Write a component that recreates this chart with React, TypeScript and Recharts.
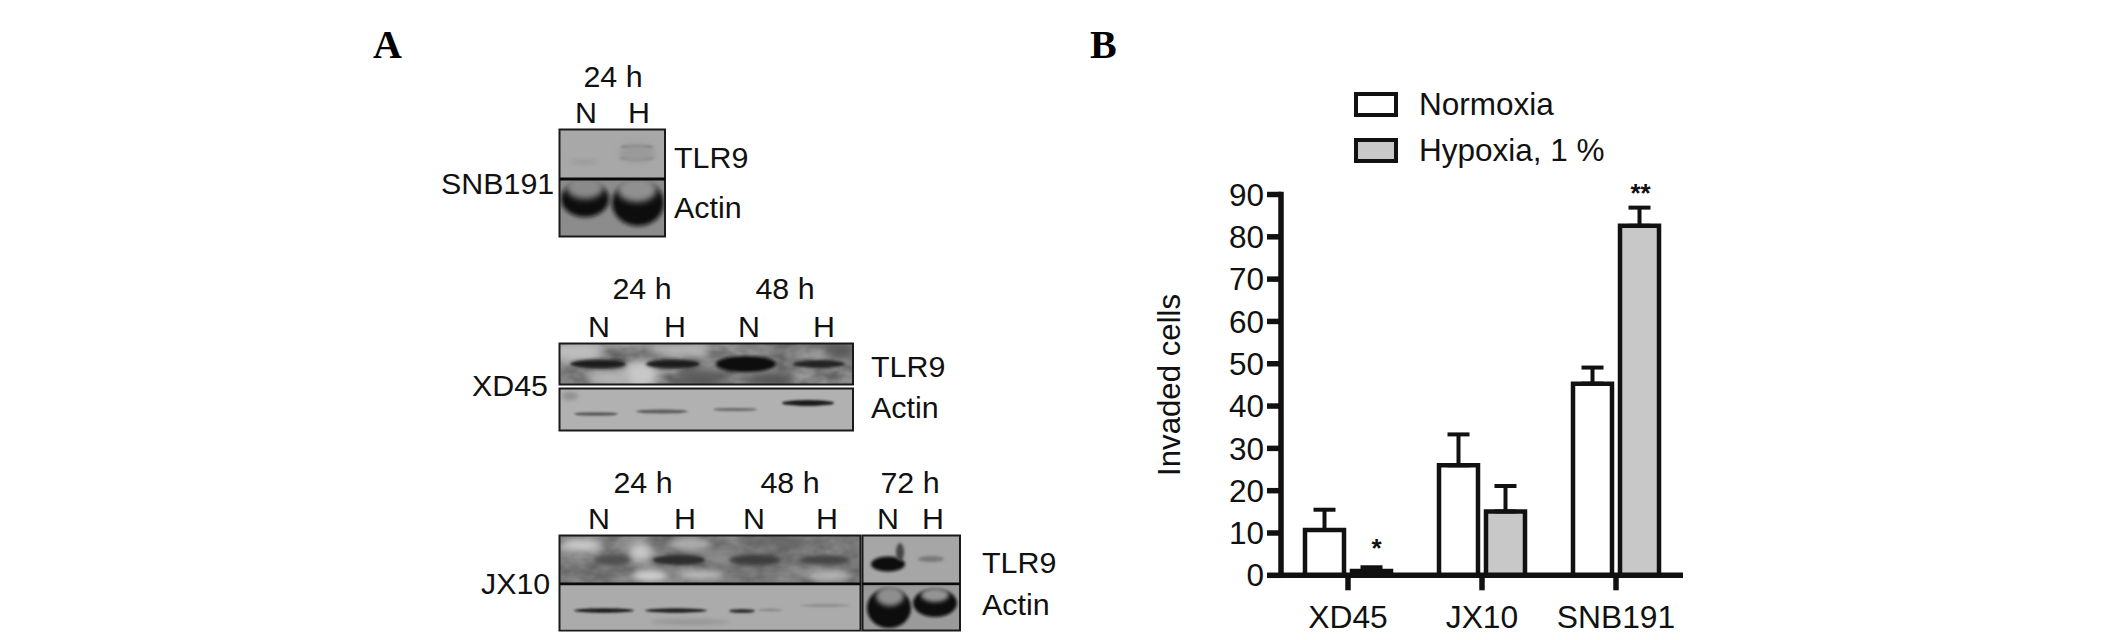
import React from 'react';
import { BarChart, Bar, XAxis, YAxis, ErrorBar, Legend, Label, LabelList } from 'recharts';

// chart values
const categories = ['XD45', 'JX10', 'SNB191'];
const normoxia = [10.7, 26, 45.3];
const normoxiaErr = [4.8, 7.3, 3.8];
const hypoxia = [1, 15.1, 82.6];
const hypoxiaErr = [0.9, 6, 4.3];
const hypoxiaStars = ['*', '', '**'];
const yTicks = [0, 10, 20, 30, 40, 50, 60, 70, 80, 90];

const chartData = categories.map((name, i) => ({
  name,
  normoxia: normoxia[i],
  normoxiaErr: [0, normoxiaErr[i]],
  hypoxia: hypoxia[i],
  hypoxiaErr: [0, hypoxiaErr[i]],
  star: hypoxiaStars[i],
}));

const FONT = '"Liberation Sans", Arial, sans-serif';
const SERIF = '"Liberation Serif", "Times New Roman", serif';
const INK = '#111';
const GREY = '#c8c8c8';

const PLOT_TOP = 194.5;
const PLOT_BOTTOM = 575.3;
const PX_PER_UNIT = (PLOT_BOTTOM - PLOT_TOP) / 90;

// blot layout for panel A: [cx, cy, rx, ry, colour, blur]
type Spot = [number, number, number, number, string, number];
interface Blot {
  x: number;
  y: number;
  w: number;
  h: number;
  fill: string;
  mottled?: boolean;
  spots: Spot[];
}

const blots: Blot[] = [
  {
    x: 560, y: 130, w: 105, h: 49, fill: '#a8a8a8',
    spots: [
      [637, 147, 16, 2, '#6c6c6c', 1],
      [637, 158, 17, 2.5, '#7c7c7c', 1],
      [637, 153, 18, 10, '#9a9a9a', 3],
      [584, 162, 14, 3, '#9b9b9b', 2],
    ],
  },
  {
    x: 560, y: 180, w: 105, h: 56, fill: '#8c8c8c',
    spots: [
      [585, 199, 24, 18, '#0e0e0e', 2],
      [585, 187, 19, 12, '#8a8a8a', 3],
      [638, 203, 26, 23, '#0e0e0e', 2],
      [637, 189, 20, 13, '#909090', 3],
    ],
  },
  {
    x: 560, y: 344, w: 293, h: 41, fill: '#9a9a9a', mottled: true,
    spots: [
      [575, 352, 30, 10, '#c0c0c0', 5],
      [640, 375, 18, 14, '#c8c8c8', 5],
      [610, 378, 22, 8, '#b5b5b5', 4],
      [700, 380, 24, 10, '#5a5a5a', 5],
      [770, 380, 26, 8, '#555', 5],
      [680, 350, 30, 7, '#b5b5b5', 4],
      [840, 350, 16, 10, '#5a5a5a', 5],
      [598, 364, 28, 4.5, '#1a1a1a', 1.5],
      [673, 364, 27, 4.5, '#1a1a1a', 1.5],
      [746, 364, 30, 8, '#111', 1.5],
      [819, 364, 26, 4, '#222', 1.5],
    ],
  },
  {
    x: 560, y: 389, w: 293, h: 41, fill: '#b1b1b1',
    spots: [
      [596, 414, 22, 1.6, '#4b4b4b', 1],
      [662, 411.5, 26, 2, '#5a5a5a', 1],
      [735, 409.5, 22, 1.6, '#6a6a6a', 1],
      [808, 403, 26, 3, '#1e1e1e', 1],
      [570, 396, 8, 4, '#8f8f8f', 2],
    ],
  },
  {
    x: 560, y: 536, w: 300, h: 47, fill: '#8a8a8a', mottled: true,
    spots: [
      [582, 545, 22, 7, '#cfcfcf', 4],
      [640, 552, 12, 10, '#c8c8c8', 4],
      [690, 544, 22, 6, '#adadad', 3],
      [650, 576, 18, 6, '#cfcfcf', 3],
      [700, 575, 22, 5, '#bbb', 3],
      [830, 576, 22, 5, '#b5b5b5', 3],
      [780, 542, 26, 5, '#666', 4],
      [612, 560, 19, 6, '#505050', 2.5],
      [679, 560, 26, 5, '#2e2e2e', 1.5],
      [755, 560, 26, 6, '#3c3c3c', 2],
      [825, 560, 25, 5, '#444', 2],
    ],
  },
  {
    x: 560, y: 586, w: 300, h: 43, fill: '#ababab',
    spots: [
      [604, 610.5, 30, 2.2, '#1c1c1c', 1],
      [676, 610.5, 31, 2.2, '#222', 1],
      [742, 611, 13, 2, '#333', 1],
      [770, 610, 12, 1.5, '#8a8a8a', 1],
      [825, 605.5, 25, 1.5, '#8e8e8e', 1],
      [690, 622, 40, 3, '#969696', 2],
    ],
  },
  {
    x: 863, y: 536, w: 97, h: 47, fill: '#a6a6a6',
    spots: [
      [888, 564, 17, 7.5, '#0d0d0d', 1.5],
      [900, 552, 4, 9, '#444', 1.5],
      [931, 559, 13, 3, '#777', 1.5],
    ],
  },
  {
    x: 863, y: 586, w: 97, h: 44, fill: '#9a9a9a',
    spots: [
      [889, 608, 22, 20, '#0c0c0c', 1.5],
      [890, 596, 14, 10, '#8e8e8e', 2.5],
      [935, 603, 22, 14, '#0c0c0c', 1.5],
      [935, 595, 14, 7, '#949494', 2],
    ],
  },
];

const blotFrames = [
  [559.5, 129.5, 105.5, 107],
  [559.5, 343.5, 293.5, 41],
  [559.5, 388.5, 293.5, 42],
  [559.5, 535.5, 301, 95],
  [862.5, 535.5, 97.5, 95],
];
const blotDividers = [
  [559.5, 179, 665, 179],
  [559.5, 584, 860.5, 584],
  [862.5, 584, 960, 584],
];

// panel A text: [label, x, baseline, anchor]
type PanelText = [string, number, number, 'start' | 'middle'];
const panelTexts: PanelText[] = [
  ['24 h', 613, 87, 'middle'],
  ['N', 586, 123, 'middle'],
  ['H', 639, 123, 'middle'],
  ['TLR9', 674, 168, 'start'],
  ['Actin', 674, 218, 'start'],
  ['SNB191', 441, 194, 'start'],
  ['24 h', 642, 299, 'middle'],
  ['48 h', 785, 299, 'middle'],
  ['N', 599, 337, 'middle'],
  ['H', 675, 337, 'middle'],
  ['N', 749, 337, 'middle'],
  ['H', 824, 337, 'middle'],
  ['TLR9', 871, 377, 'start'],
  ['Actin', 871, 418, 'start'],
  ['XD45', 472, 396, 'start'],
  ['24 h', 643, 493, 'middle'],
  ['48 h', 790, 493, 'middle'],
  ['72 h', 910, 493, 'middle'],
  ['N', 599, 529, 'middle'],
  ['H', 685, 529, 'middle'],
  ['N', 754, 529, 'middle'],
  ['H', 827, 529, 'middle'],
  ['N', 888, 529, 'middle'],
  ['H', 933, 529, 'middle'],
  ['TLR9', 982, 573, 'start'],
  ['Actin', 982, 615, 'start'],
  ['JX10', 481, 594, 'start'],
];

const blurLevels = [1, 1.5, 2, 2.5, 3, 4, 5];
const blurId = (b: number) => `blur-${String(b).replace('.', '_')}`;

const PanelA = () => (
  <svg width={2127} height={640} style={{ position: 'absolute', left: 0, top: 0 }}>
    <defs>
      {blurLevels.map(b => (
        <filter key={b} id={blurId(b)} x="-50%" y="-50%" width="200%" height="200%">
          <feGaussianBlur stdDeviation={b} />
        </filter>
      ))}
      <filter id="mottle" x="0" y="0" width="100%" height="100%">
        <feTurbulence type="fractalNoise" baseFrequency="0.035 0.06" numOctaves={3} seed={7} />
        <feColorMatrix values="0 0 0 0 0.1  0 0 0 0 0.1  0 0 0 0 0.1  1.8 0 0 0 -0.55" />
      </filter>
      {blots.map((b, i) => (
        <clipPath key={i} id={`blot-${i}`}>
          <rect x={b.x} y={b.y} width={b.w} height={b.h} />
        </clipPath>
      ))}
    </defs>
    {blots.map((b, i) => (
      <g key={i} clipPath={`url(#blot-${i})`}>
        <rect x={b.x} y={b.y} width={b.w} height={b.h} fill={b.fill} />
        {b.mottled && <rect x={b.x} y={b.y} width={b.w} height={b.h} filter="url(#mottle)" />}
        {b.spots.map(([cx, cy, rx, ry, c, blur], j) => (
          <ellipse key={j} cx={cx} cy={cy} rx={rx} ry={ry} fill={c} filter={`url(#${blurId(blur)})`} />
        ))}
      </g>
    ))}
    {blotFrames.map(([x, y, w, h], i) => (
      <rect key={i} x={x} y={y} width={w} height={h} fill="none" stroke="#1a1a1a" strokeWidth={2} />
    ))}
    {blotDividers.map(([x1, y1, x2, y2], i) => (
      <line key={i} x1={x1} y1={y1} x2={x2} y2={y2} stroke="#0a0a0a" strokeWidth={3} />
    ))}
    {panelTexts.map(([t, x, y, anchor], i) => (
      <text key={i} x={x} y={y} textAnchor={anchor} fontFamily={FONT} fontSize={30.4} fill={INK}>
        {t}
      </text>
    ))}
    <text x={373} y={58} fontFamily={SERIF} fontWeight="bold" fontSize={40} fill="#000">A</text>
    <text x={1090} y={58} fontFamily={SERIF} fontWeight="bold" fontSize={40} fill="#000">B</text>
  </svg>
);

const seriesFill: Record<string, string> = { normoxia: '#fff', hypoxia: GREY };

const renderLegend = ({ payload }: any) => (
  <div style={{ position: 'relative', width: 260, height: 72, fontFamily: FONT, fontSize: 31.5, color: INK }}>
    {(payload || []).map((entry: any, i: number) => (
      <div key={entry.value} style={{ position: 'absolute', left: 0, top: i * 45.6, height: 25, lineHeight: '25px', whiteSpace: 'nowrap' }}>
        <span
          style={{
            position: 'absolute',
            left: 0,
            top: 0,
            width: 44,
            height: 25,
            boxSizing: 'border-box',
            border: `4px solid ${INK}`,
            background: seriesFill[entry.dataKey],
          }}
        />
        <span style={{ position: 'absolute', left: 65 }}>{entry.value}</span>
      </div>
    ))}
  </div>
);

// asterisks sit above the error bar cap of their bar
const starNudge: Record<string, [number, number]> = { '*': [5, 24], '**': [1, 20] };

const renderStar = (props: any) => {
  const { x, y, width, value, index } = props;
  if (!value) return null;
  const [dx, gap] = starNudge[value];
  const capY = y - hypoxiaErr[index] * PX_PER_UNIT;
  return (
    <text
      x={x + width / 2 + dx}
      y={capY - gap + 14}
      textAnchor="middle"
      fontFamily={FONT}
      fontSize={26}
      fontWeight="bold"
      fill={INK}
    >
      {value}
    </text>
  );
};

const axisLine = { stroke: INK, strokeWidth: 5.5 };

const App = () => (
  <div style={{ position: 'absolute', left: 0, top: 0, width: 2127, height: 640, background: '#fff' }}>
    <PanelA />
    <div style={{ position: 'absolute', left: 0, top: 0 }}>
      <BarChart
        width={2127}
        height={640}
        data={chartData}
        margin={{ top: PLOT_TOP, right: 444, bottom: 640 - PLOT_BOTTOM - 50, left: 1057 }}
        barSize={39}
        barGap={8}
      >
        <XAxis
          dataKey="name"
          height={50}
          axisLine={axisLine}
          tickLine={axisLine}
          tickSize={15}
          tickMargin={15}
          interval={0}
          tick={{ fontFamily: FONT, fontSize: 31.8, fill: INK }}
        />
        <YAxis
          width={224}
          domain={[0, 90]}
          ticks={yTicks}
          interval={0}
          axisLine={{ ...axisLine, strokeLinecap: 'square' }}
          tickLine={axisLine}
          tickSize={14}
          tickMargin={3}
          tick={{ fontFamily: FONT, fontSize: 31.5, fill: INK }}
        >
          <Label value="Invaded cells" angle={-90} position="center" fontFamily={FONT} fontSize={31.2} fill={INK} />
        </YAxis>
        <Legend
          layout="vertical"
          align="center"
          verticalAlign="middle"
          itemSorter={null}
          content={renderLegend}
          wrapperStyle={{ left: 1354, top: 92, width: 260, height: 72 }}
        />
        <Bar dataKey="normoxia" name="Normoxia" fill="#fff" stroke={INK} strokeWidth={4.5} isAnimationActive={false}>
          <ErrorBar dataKey="normoxiaErr" direction="y" width={11} stroke={INK} strokeWidth={4} isAnimationActive={false} />
        </Bar>
        <Bar dataKey="hypoxia" name="Hypoxia, 1 %" fill={GREY} stroke={INK} strokeWidth={4.5} isAnimationActive={false}>
          <ErrorBar dataKey="hypoxiaErr" direction="y" width={11} stroke={INK} strokeWidth={4} isAnimationActive={false} />
          <LabelList dataKey="star" content={renderStar} />
        </Bar>
      </BarChart>
    </div>
  </div>
);

export default App;
